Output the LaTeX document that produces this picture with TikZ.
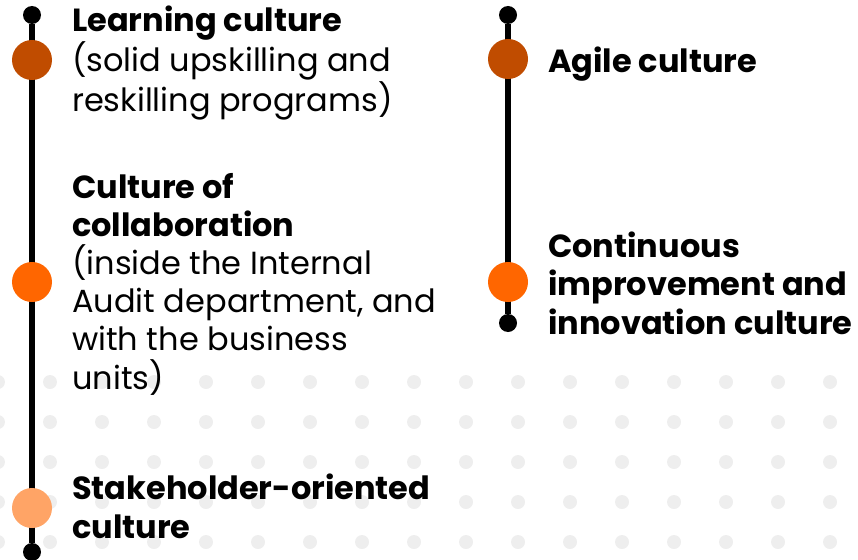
\documentclass[tikz,border=0pt]{standalone}
\usepackage{fontspec}
\setmainfont{Poppins}
\usepackage{tikz}
\usetikzlibrary{positioning}

\definecolor{rust}{RGB}{192,76,0}
\definecolor{flame}{RGB}{255,102,0}
\definecolor{peach}{RGB}{255,164,102}
\definecolor{dotgray}{RGB}{238,238,238}

\tikzset{
	endpoint/.style = {circle, fill = black, inner sep = 0pt, minimum size = 18pt},
	milestone/.style = {circle, inner sep = 0pt, minimum size = 40pt},
	spine/.style = {line width = 6pt},
	label text/.style = {anchor = base west, inner sep = 0pt, align = left,
		font = \fontsize{32}{38.2}\selectfont}
}

\begin{document}
\begin{tikzpicture}[x = 1pt, y = -1pt]
	\useasboundingbox (0,0) rectangle (858,559);

	% dotted background
	\foreach \i in {0,...,16}
	{
		\foreach \j in {0,...,4}
		{
			\fill [dotgray] ({-2 + 52*\i}, {382 + 40*\j}) circle (7pt);
		}
	}

	% left timeline
	\node [endpoint] (ltop) at (32,15) {};
	\node [endpoint] (lbot) at (32,552) {};
	\draw [spine] (ltop) -- (lbot);
	\node [milestone, fill = rust] (learning) at (32,60) {};
	\node [milestone, fill = flame] (collab) at (32,282) {};
	\node [milestone, fill = peach] (stake) at (32,508) {};

	% right timeline
	\node [endpoint] (rtop) at (508,15) {};
	\node [endpoint] (rbot) at (508,323) {};
	\draw [spine] (rtop) -- (rbot);
	\node [milestone, fill = rust] (agile) at (508,59) {};
	\node [milestone, fill = flame] (improve) at (508,282) {};

	% texts (placed at the baseline of their last line)
	\node [label text] (learning text) at (72,111)
		{\textbf{Learning culture}\\(solid upskilling and\\reskilling programs)};
	\node [label text] (collab text) at (72,389)
		{\textbf{Culture of}\\\textbf{collaboration}\\(inside the Internal\\Audit department, and\\with the business\\units)};
	\node [label text] (stake text) at (72,538)
		{\textbf{Stakeholder-oriented}\\\textbf{culture}};
	\node [label text] (agile text) at (548,73) {\textbf{Agile culture}};
	\node [label text] (improve text) at (548,334)
		{\textbf{Continuous}\\\textbf{improvement and}\\\textbf{innovation culture}};
\end{tikzpicture}
\end{document}
